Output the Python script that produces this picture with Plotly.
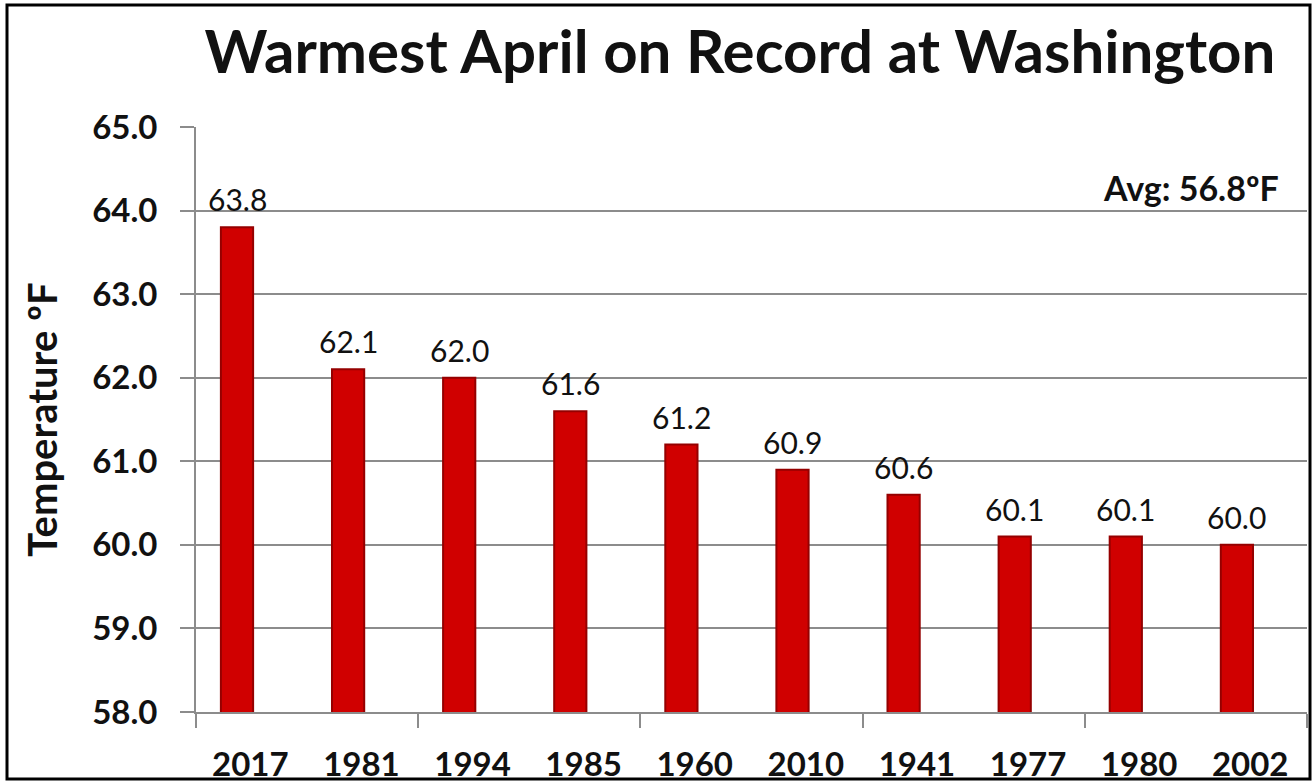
import plotly.graph_objects as go

years = ["2017", "1981", "1994", "1985", "1960", "2010", "1941", "1977", "1980", "2002"]
temps = [63.8, 62.1, 62.0, 61.6, 61.2, 60.9, 60.6, 60.1, 60.1, 60.0]
y_ticks = [58.0, 59.0, 60.0, 61.0, 62.0, 63.0, 64.0, 65.0]

W, H = 1312, 782
L, R, T, B = 196, 5, 127, 70
pos = list(range(len(years)))
x0 = -0.369
x1 = x0 + len(years)
pw = W - L - R
ph = H - T - B
font = "Lato"
ink = "#111111"
grid = "#8c8c8c"

fig = go.Figure()
fig.add_trace(go.Bar(
    x=pos, y=temps, width=0.29,
    marker=dict(color="#d00000", line=dict(color="#950000", width=2)),
    showlegend=False, hoverinfo="x+y",
))
for p, v in zip(pos, temps):
    fig.add_annotation(x=p, y=v, text=f"{v:.1f}", showarrow=False, yanchor="bottom",
                       yshift=8, font=dict(family=font, size=30, color=ink))

fig.update_layout(
    width=W, height=H,
    margin=dict(l=L, r=R, t=T, b=B),
    paper_bgcolor="white", plot_bgcolor="white",
    title=dict(text="<b>Warmest April on Record at Washington</b>",
               x=740 / W, xanchor="center", y=1 - 52 / H, yanchor="middle",
               font=dict(family=font, size=60, color=ink)),
    xaxis=dict(range=[x0, x1], tickmode="array", tickvals=[p + 0.12 for p in pos],
               ticktext=[f"<b>{y}</b>" for y in years], automargin=False,
               ticks="", showgrid=False, showline=True, linecolor=grid, linewidth=2,
               tickfont=dict(family=font, size=33, color=ink), ticklabelstandoff=22,
               minor=dict(tickmode="array", tickvals=[x0 + 2 * k for k in range(6)], ticks="outside",
                          ticklen=14, tickwidth=2, tickcolor=grid, showgrid=False),
               zeroline=False),
    yaxis=dict(range=[58, 65], tickmode="array", tickvals=y_ticks,
               ticktext=[f"<b>{v:.1f}</b>" for v in y_ticks], automargin=False,
               ticks="outside", ticklen=14, tickwidth=2, tickcolor=grid,
               showgrid=True, gridcolor=grid, gridwidth=2,
               showline=True, linecolor=grid, linewidth=2,
               tickfont=dict(family=font, size=33, color=ink), ticklabelstandoff=16,
               title=dict(text="<b>Temperature ºF</b>", font=dict(family=font, size=40, color=ink),
                          standoff=22),
               zeroline=False),
)
fig.add_annotation(text="<b>Avg: 56.8ºF</b>", xref="paper", yref="paper",
                   x=(1281 - L) / pw, y=(H - B - 188) / ph, xanchor="right", yanchor="middle",
                   showarrow=False, font=dict(family=font, size=34, color=ink))
fig.add_shape(type="rect", xref="paper", yref="paper",
              x0=(7 - L) / pw, x1=(1310 - L) / pw,
              y0=(H - B - 779) / ph, y1=(H - B - 5) / ph,
              line=dict(color="black", width=3), fillcolor="rgba(0,0,0,0)", layer="above")
fig.write_html("out.html", config={"displayModeBar": False},
               post_script="document.body.style.margin='0';document.body.style.overflow='hidden';")
